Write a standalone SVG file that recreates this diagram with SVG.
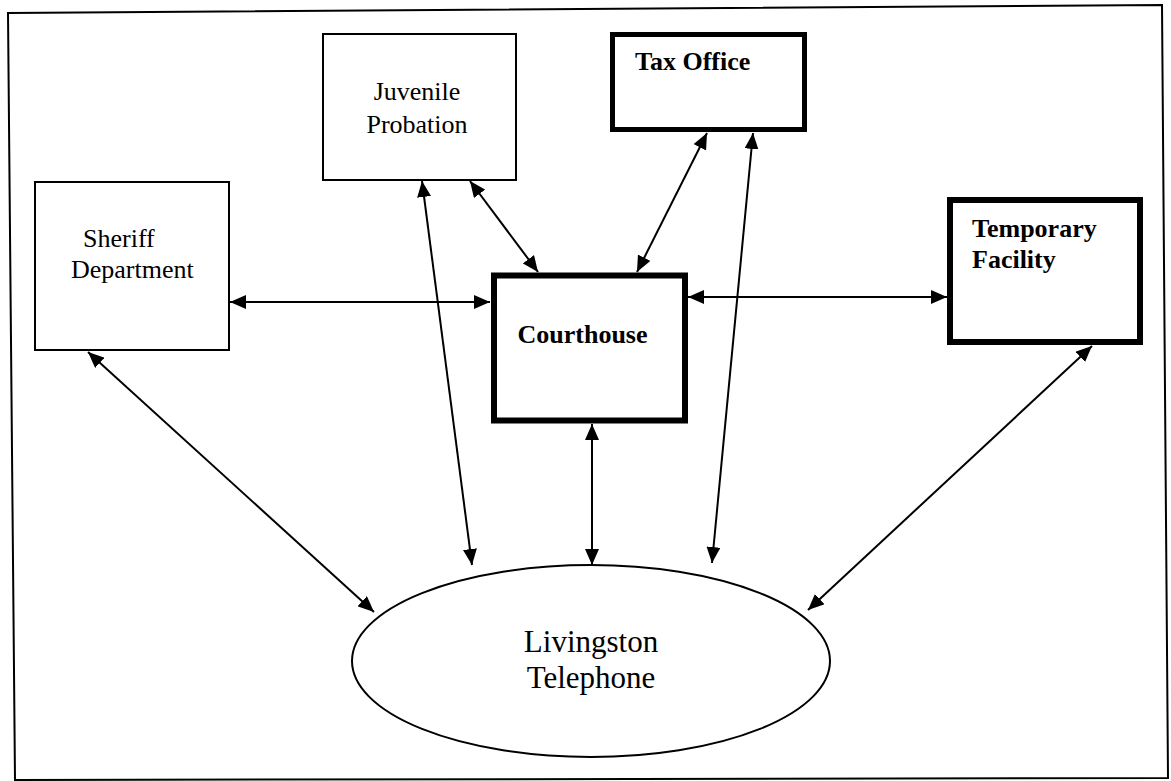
<svg xmlns="http://www.w3.org/2000/svg" width="1171" height="781" viewBox="0 0 1171 781">
  <style>
    .thin { fill: #fff; stroke: #000; stroke-width: 2; }
    .thick { fill: #fff; stroke: #000; }
    .lbl { font-family: "Liberation Serif", "Times New Roman", serif; font-size: 26px; fill: #000; }
    .bold { font-weight: bold; }
    .conn line { stroke: #000; stroke-width: 2; marker-start: url(#ah); marker-end: url(#ah); }
  </style>
  <defs>
    <marker id="ah" viewBox="0 0 16 14" refX="16" refY="7" markerWidth="16" markerHeight="14" markerUnits="userSpaceOnUse" orient="auto-start-reverse">
      <path d="M0,0 L16,7 L0,14 z" fill="#000"/>
    </marker>
  </defs>
  <rect width="1171" height="781" fill="#fff"/>
  <polygon id="frame" points="8,13 1162,5 1168,778 15,780" fill="none" stroke="#000" stroke-width="2"/>

  <g id="connectors" class="conn">
    <line x1="230" y1="302" x2="490" y2="302"/>
    <line x1="470" y1="181" x2="538" y2="272"/>
    <line x1="707" y1="133" x2="637" y2="272"/>
    <line x1="422" y1="181" x2="472" y2="565"/>
    <line x1="753" y1="133" x2="712" y2="563"/>
    <line x1="592" y1="424" x2="592" y2="565"/>
    <line x1="688" y1="297" x2="947" y2="297"/>
    <line x1="1092" y1="346" x2="808" y2="610"/>
    <line x1="88" y1="352" x2="374" y2="612"/>
  </g>

  <g id="sheriff">
    <rect class="thin" x="35" y="182" width="194" height="168"/>
    <text class="lbl" x="83" y="247">Sheriff</text>
    <text class="lbl" x="71" y="278">Department</text>
  </g>

  <g id="juvenile">
    <rect class="thin" x="323" y="34" width="193" height="146"/>
    <text class="lbl" x="417" y="100" text-anchor="middle">Juvenile</text>
    <text class="lbl" x="417" y="133" text-anchor="middle">Probation</text>
  </g>

  <g id="tax-office">
    <rect class="thick" x="612.5" y="34.5" width="192" height="95" stroke-width="5"/>
    <text class="lbl bold" x="635" y="70">Tax Office</text>
  </g>

  <g id="courthouse">
    <rect class="thick" x="494" y="275.5" width="191" height="145" stroke-width="6"/>
    <text class="lbl bold" x="582.5" y="343" text-anchor="middle">Courthouse</text>
  </g>

  <g id="temporary-facility">
    <rect class="thick" x="950" y="200" width="190" height="142" stroke-width="6"/>
    <text class="lbl bold" x="972" y="237">Temporary</text>
    <text class="lbl bold" x="972" y="268">Facility</text>
  </g>

  <g id="livingston-telephone">
    <ellipse cx="591" cy="661" rx="239" ry="96" fill="#fff" stroke="#000" stroke-width="2"/>
    <text class="lbl" x="591" y="652" text-anchor="middle" font-size="31" style="font-size:31px">Livingston</text>
    <text class="lbl" x="591" y="688" text-anchor="middle" style="font-size:31px">Telephone</text>
  </g>
</svg>
